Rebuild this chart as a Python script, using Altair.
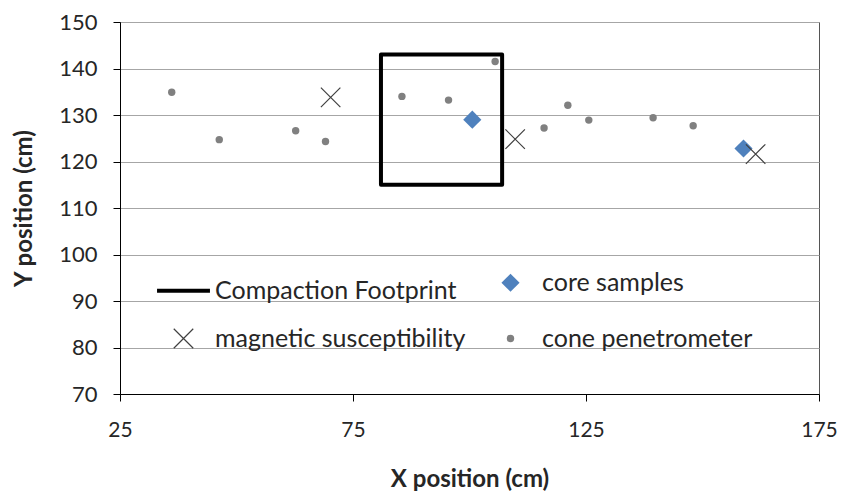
import altair as alt
import pandas as pd

# ---- data ----
series_names = ["Compaction Footprint", "core samples", "magnetic susceptibility", "cone penetrometer"]

footprint_x = [81, 107]
footprint_y = [115, 143]

core_x = [100.6, 158.8]
core_y = [129.0, 122.8]

mag_x = [70.2, 109.8, 161.4]
mag_y = [133.8, 124.8, 121.6]

cone_x = [36.1, 46.3, 62.7, 69.1, 85.5, 95.5, 105.5, 116.0, 121.1, 125.6, 139.4, 148.0]
cone_y = [134.9, 124.7, 126.6, 124.3, 134.0, 133.2, 141.5, 127.2, 132.1, 128.9, 129.4, 127.7]

x_ticks = [25, 75, 125, 175]
y_ticks = [70, 80, 90, 100, 110, 120, 130, 140, 150]

FONT = "Lato"
TXT = "#262626"

pts = pd.DataFrame(
    {"x": core_x + mag_x + cone_x,
     "y": core_y + mag_y + cone_y,
     "series": ["core samples"] * len(core_x)
     + ["magnetic susceptibility"] * len(mag_x)
     + ["cone penetrometer"] * len(cone_x)}
)
box = pd.DataFrame({"x": [footprint_x[0]], "x2": [footprint_x[1]],
                    "y": [footprint_y[0]], "y2": [footprint_y[1]]})

xscale = alt.Scale(domain=[25, 175], nice=False, zero=False)
yscale = alt.Scale(domain=[70, 150], nice=False, zero=False)

xaxis = alt.Axis(values=x_ticks, title="X position (cm)", grid=False,
                 tickSize=7, labelPadding=18, titlePadding=27,
                 labelFontSize=21, titleFontSize=24, labelFont=FONT, titleFont=FONT,
                 titleFontWeight="bold", domainColor="black", tickColor="black",
                 labelColor=TXT, titleColor=TXT, labelFlush=False)
yaxis = alt.Axis(values=y_ticks, title="Y position (cm)", grid=True, gridColor="#A6A6A6",
                 tickSize=7, labelPadding=16, titlePadding=22,
                 labelFontSize=22, titleFontSize=24, labelFont=FONT, titleFont=FONT,
                 titleFontWeight="bold", domainColor="black", tickColor="black",
                 labelColor=TXT, titleColor=TXT)

rect = alt.Chart(box).mark_rect(filled=False, stroke="black", strokeWidth=4,
                                strokeJoin="round").encode(
    x=alt.X("x:Q", scale=xscale, axis=xaxis),
    x2="x2:Q",
    y=alt.Y("y:Q", scale=yscale, axis=yaxis),
    y2="y2:Q",
)

shape_range = ["stroke", "diamond", "M-1,-1L1,1M1,-1L-1,1", "circle"]
fill_range = ["transparent", "#4F81BD", "transparent", "#808080"]
stroke_range = ["black", "#4F81BD", "#404040", "#808080"]
sw_range = [4, 0, 1.2, 0]
size_range = [2800, 330, 380, 55]

legend = alt.Legend(title=None, orient="none", legendX=35, legendY=240, columns=2,
                    direction="horizontal", columnPadding=16, rowPadding=22,
                    labelFont=FONT, labelFontSize=25, labelLimit=0,
                    labelColor=TXT, labelOffset=3, symbolOpacity=1, padding=0)

points = alt.Chart(pts).mark_point(opacity=1).encode(
    x=alt.X("x:Q", scale=xscale),
    y=alt.Y("y:Q", scale=yscale),
    shape=alt.Shape("series:N", scale=alt.Scale(domain=series_names, range=shape_range), legend=legend),
    fill=alt.Fill("series:N", scale=alt.Scale(domain=series_names, range=fill_range), legend=legend),
    stroke=alt.Stroke("series:N", scale=alt.Scale(domain=series_names, range=stroke_range), legend=legend),
    strokeWidth=alt.StrokeWidth("series:N", scale=alt.Scale(type="ordinal", domain=series_names, range=sw_range), legend=legend),
    size=alt.Size("series:N", scale=alt.Scale(type="ordinal", domain=series_names, range=size_range), legend=legend),
)

chart = alt.layer(rect, points).properties(
    width=699, height=372,
    autosize=alt.AutoSizeParams(type="none"),
    padding={"left": 112, "top": 14, "right": 18, "bottom": 101},
).configure_view(stroke="#555555", strokeWidth=1)

chart.save("out.html", embed_options={"renderer": "svg", "actions": False})
